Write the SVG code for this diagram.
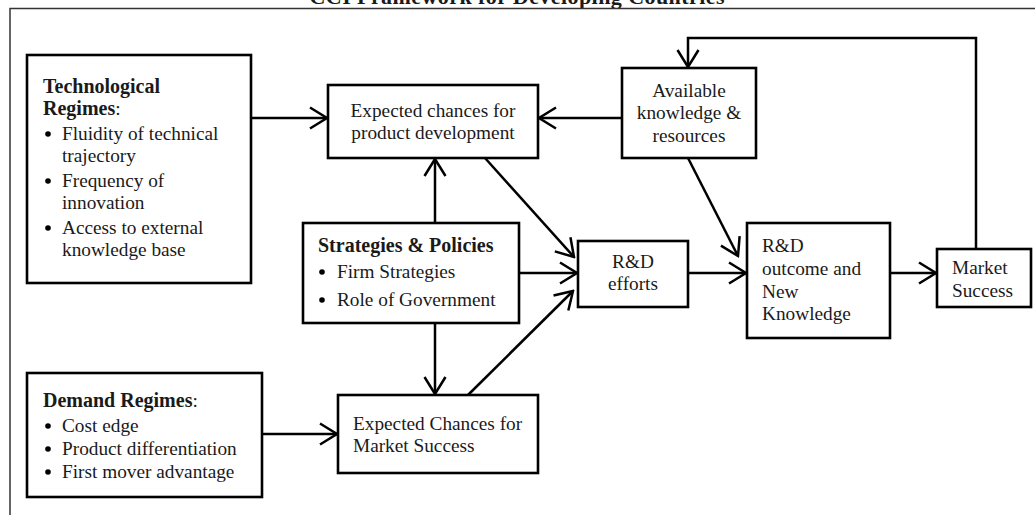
<svg xmlns="http://www.w3.org/2000/svg" width="1035" height="515" viewBox="0 0 1035 515">
<style>
text{font-family:"Liberation Serif","Times New Roman",serif;font-size:19.3px;fill:#1a1a1a}
.b{font-weight:bold;font-size:20px}
.c{text-anchor:middle}
.box{fill:#fff;stroke:#000;stroke-width:2.6}
.ln{fill:none;stroke:#000;stroke-width:2.5}
.frame{fill:none;stroke:#333;stroke-width:1.5}
</style>
<defs>
<marker id="arr" markerUnits="userSpaceOnUse" viewBox="0 0 20 24" markerWidth="20" markerHeight="24" refX="18" refY="12" orient="auto">
<path d="M1,1.5 L18,12 L1,22.5" fill="none" stroke="#000" stroke-width="2.5"/>
</marker>
</defs>
<text class="b c" x="517" y="4" style="font-size:22px" textLength="415">CCI Framework for Developing Countries</text>
<path class="frame" d="M10,515 L10,8.5 L1035,8.5"/>
<g id="connectors">
<path class="ln" d="M251,118 L327,118" marker-end="url(#arr)"/>
<path class="ln" d="M622,118 L539,118" marker-end="url(#arr)"/>
<path class="ln" d="M435,223 L435,159" marker-end="url(#arr)"/>
<path class="ln" d="M485,158 L574,257" marker-end="url(#arr)"/>
<path class="ln" d="M519,273 L577,273" marker-end="url(#arr)"/>
<path class="ln" d="M468,395 L573,291" marker-end="url(#arr)"/>
<path class="ln" d="M435,323 L435,394" marker-end="url(#arr)"/>
<path class="ln" d="M262,434 L337,434" marker-end="url(#arr)"/>
<path class="ln" d="M688,273 L746,273" marker-end="url(#arr)"/>
<path class="ln" d="M688,158 L738,256" marker-end="url(#arr)"/>
<path class="ln" d="M890,273 L936,273" marker-end="url(#arr)"/>
<path class="ln" d="M976,249 L976,38 L688,38 L688,67" marker-end="url(#arr)"/>
</g>
<g id="tech">
<rect class="box" x="27" y="55" width="224" height="228"/>
<text class="b" x="43" y="93">Technological</text>
<text x="43" y="115"><tspan class="b">Regimes</tspan>:</text>
<circle cx="48" cy="134" r="2.8"/><text x="62" y="140">Fluidity of technical</text>
<text x="62" y="162">trajectory</text>
<circle cx="48" cy="181" r="2.8"/><text x="62" y="187">Frequency of</text>
<text x="62" y="209">innovation</text>
<circle cx="48" cy="228" r="2.8"/><text x="62" y="234">Access to external</text>
<text x="62" y="256">knowledge base</text>
</g>
<g id="ecpd">
<rect class="box" x="328" y="85" width="210" height="73"/>
<text class="c" x="433" y="117">Expected chances for</text>
<text class="c" x="433" y="139">product development</text>
</g>
<g id="avail">
<rect class="box" x="622" y="68" width="134" height="90"/>
<text class="c" x="689" y="97">Available</text>
<text class="c" x="689" y="119">knowledge &amp;</text>
<text class="c" x="689" y="142">resources</text>
</g>
<g id="strat">
<rect class="box" x="303" y="223" width="216" height="100"/>
<text class="b" x="318" y="252">Strategies &amp; Policies</text>
<circle cx="322" cy="272" r="2.8"/><text x="337" y="278">Firm Strategies</text>
<circle cx="322" cy="300" r="2.8"/><text x="337" y="306">Role of Government</text>
</g>
<g id="rde">
<rect class="box" x="578" y="241" width="110" height="66"/>
<text class="c" x="633" y="268">R&amp;D</text>
<text class="c" x="633" y="290">efforts</text>
</g>
<g id="rdo">
<rect class="box" x="747" y="223" width="143" height="115"/>
<text x="762" y="252">R&amp;D</text>
<text x="762" y="275">outcome and</text>
<text x="762" y="298">New</text>
<text x="762" y="320">Knowledge</text>
</g>
<g id="market">
<rect class="box" x="937" y="249" width="94" height="58"/>
<text x="952" y="274">Market</text>
<text x="952" y="297">Success</text>
</g>
<g id="demand">
<rect class="box" x="27" y="373" width="235" height="124"/>
<text x="43" y="407"><tspan class="b">Demand Regimes</tspan>:</text>
<circle cx="48" cy="426" r="2.8"/><text x="62" y="432">Cost edge</text>
<circle cx="48" cy="449" r="2.8"/><text x="62" y="455">Product differentiation</text>
<circle cx="48" cy="472" r="2.8"/><text x="62" y="478">First mover advantage</text>
</g>
<g id="ecms">
<rect class="box" x="338" y="395" width="200" height="78"/>
<text x="353" y="430">Expected Chances for</text>
<text x="353" y="452">Market Success</text>
</g>
</svg>
